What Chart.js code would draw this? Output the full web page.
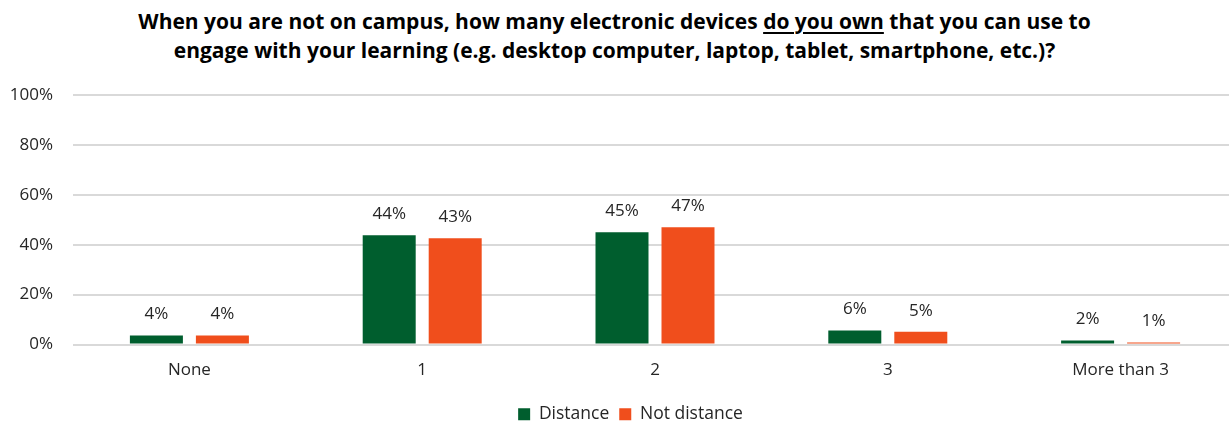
<!DOCTYPE html>
<html>
<head>
<meta charset="utf-8">
<script src="https://cdn.jsdelivr.net/npm/chart.js@4/dist/chart.umd.min.js"></script>
<style>
  html, body { margin: 0; padding: 0; background: #fff; }
  body { width: 1229px; height: 423px; overflow: hidden; position: relative; }
  #title {
    position: absolute; left: 0; top: 7px; width: 1229px;
    text-align: center; font-family: "Open Sans", sans-serif;
    font-weight: 700; font-size: 21px; line-height: 29px; color: #000;
  }
  #title u { text-underline-offset: 3px; text-decoration-thickness: 2px; }
  #wrap { position: absolute; left: 0; top: 65px; width: 1237px; height: 370px; }
</style>
</head>
<body>
<div id="title">When you are not on campus, how many electronic devices <u>do you own</u> that you can use to<br>engage with your learning (e.g. desktop computer, laptop, tablet, smartphone, etc.)?</div>
<div id="wrap"><canvas id="chart"></canvas></div>
<script>
const categories = ['None', '1', '2', '3', 'More than 3'];
const distance = [3.6, 43.8, 45.0, 5.6, 1.6];
const notDistance = [3.6, 42.6, 47.0, 5.1, 0.8];
const yTicks = [0, 20, 40, 60, 80, 100];

const GREEN = '#005E2E';
const ORANGE = '#F04E1C';
const FONT = "'Open Sans', sans-serif";
const TEXT = '#262626';

// Percentage labels above each bar
const barLabels = {
  id: 'barLabels',
  afterDatasetsDraw(chart) {
    const ctx = chart.ctx;
    ctx.save();
    ctx.font = '17px ' + FONT;
    ctx.fillStyle = TEXT;
    ctx.textAlign = 'center';
    ctx.textBaseline = 'middle';
    chart.data.datasets.forEach((ds, i) => {
      chart.getDatasetMeta(i).data.forEach((bar, j) => {
        ctx.fillText(Math.round(ds.data[j]) + '%', bar.x, bar.y - 21);
      });
    });
    ctx.restore();
  }
};

// Nudge the legend a little to the right of centre
const legendShift = {
  id: 'legendShift',
  afterLayout(chart) {
    chart.legend.left += 12;
    chart.legend.right += 12;
  }
};

new Chart(document.getElementById('chart'), {
  type: 'bar',
  data: {
    labels: categories,
    datasets: [
      { label: 'Distance', data: distance, backgroundColor: GREEN },
      { label: 'Not distance', data: notDistance, backgroundColor: ORANGE }
    ]
  },
  options: {
    responsive: true,
    maintainAspectRatio: false,
    animation: false,
    datasets: { bar: { categoryPercentage: 0.567, barPercentage: 0.803 } },
    layout: { padding: { left: 0, right: 0, top: 10, bottom: 2 } },
    scales: {
      x: {
        grid: { display: false },
        border: { display: false },
        ticks: { color: TEXT, font: { family: FONT, size: 17 }, padding: 7 },
        afterFit(scale) { scale.height = 51; }
      },
      y: {
        min: 0, max: 100,
        afterBuildTicks(scale) { scale.ticks = yTicks.map(v => ({ value: v })); },
        afterFit(scale) { scale.width = 73; },
        grid: { color: '#d9d9d9', lineWidth: 2, drawTicks: false },
        border: { display: false },
        ticks: {
          color: TEXT, font: { family: FONT, size: 17 }, padding: 20,
          callback: v => v + '%'
        }
      }
    },
    plugins: {
      legend: {
        position: 'bottom',
        labels: {
          color: TEXT, font: { family: FONT, size: 17.5 },
          boxWidth: 12, boxHeight: 12, padding: 10
        }
      },
      tooltip: { enabled: false }
    }
  },
  plugins: [barLabels, legendShift]
});
</script>
</body>
</html>
